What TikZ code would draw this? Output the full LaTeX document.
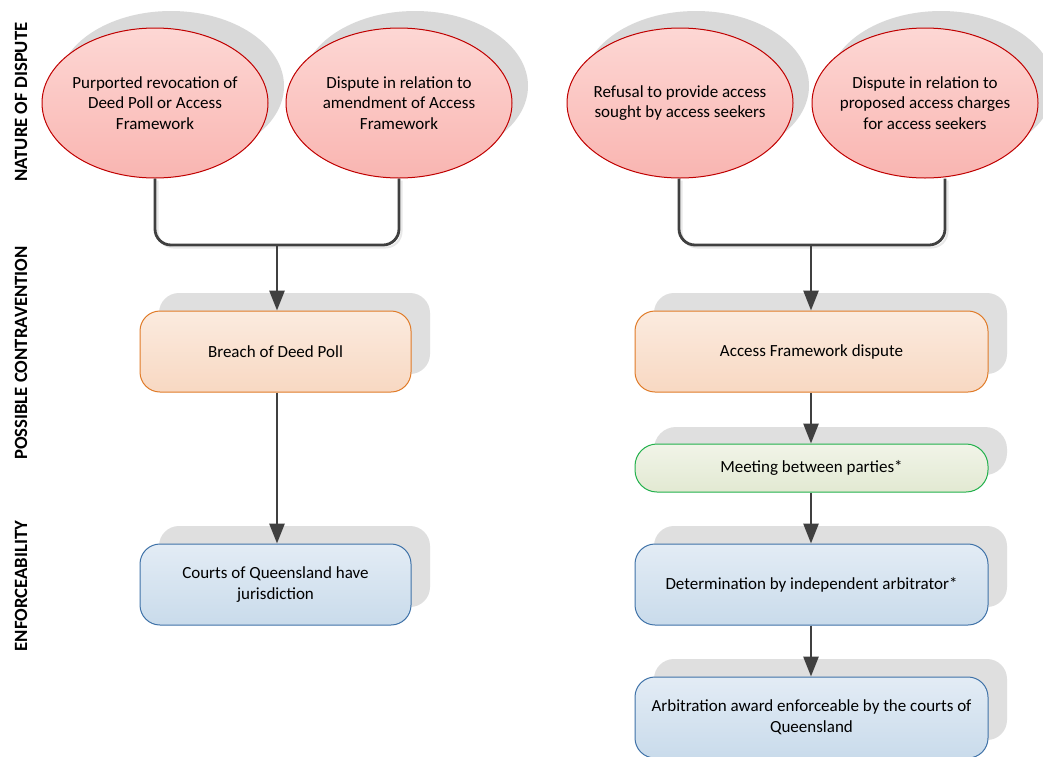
\documentclass[tikz,border=0pt]{standalone}
\usepackage{fontspec}
\setmainfont{Carlito}
\usetikzlibrary{shapes.geometric,arrows.meta,calc}
\definecolor{ellred}{HTML}{C00000}
\definecolor{elltop}{HTML}{FDD7D4}
\definecolor{ellbot}{HTML}{F9B5B1}
\definecolor{shgray}{HTML}{D9D9D9}
\definecolor{bshgray}{HTML}{DFDFDF}
\definecolor{lshgray}{HTML}{E8E8E8}
\definecolor{orborder}{HTML}{E07B28}
\definecolor{ortop}{HTML}{FBEBDF}
\definecolor{orbot}{HTML}{F8D8C2}
\definecolor{grborder}{HTML}{22B14C}
\definecolor{grtop}{HTML}{F1F4E8}
\definecolor{grbot}{HTML}{E2E9D2}
\definecolor{blborder}{HTML}{3F72A8}
\definecolor{bltop}{HTML}{E3ECF5}
\definecolor{blbot}{HTML}{C9DBEB}
\definecolor{linegray}{HTML}{404040}
\tikzset{
  mainf/.style={font=\fontsize{17}{20.7}\selectfont},
  ell/.style={ellipse, draw=ellred, line width=1pt, top color=elltop, bottom color=ellbot,
    minimum width=226pt, minimum height=150pt, inner sep=0pt},
  ellsh/.style={ellipse, fill=shgray, minimum width=226pt, minimum height=150pt, inner sep=0pt},
  txt/.style={mainf, align=center, text=black},
  boxbase/.style={rectangle, rounded corners=20pt, line width=1pt, align=center, mainf, inner sep=0pt},
  orbox/.style={boxbase, draw=orborder, top color=ortop, bottom color=orbot},
  grbox/.style={boxbase, draw=grborder, top color=grtop, bottom color=grbot, rounded corners=22pt},
  blbox/.style={boxbase, draw=blborder, top color=bltop, bottom color=blbot},
  boxsh/.style={rectangle, rounded corners=20pt, fill=bshgray, inner sep=0pt},
  conn/.style={draw=linegray, line width=2.8pt, rounded corners=16pt},
  connsh/.style={draw=lshgray, line width=2pt, rounded corners=16pt},
  arr/.style={draw=linegray, line width=2.8pt, -{Triangle[width=15pt,length=20pt]}},
  sidelabel/.style={rotate=90, font=\fontsize{18.7}{20}\selectfont\bfseries, text=black, inner sep=0pt},
}
\begin{document}
\begin{tikzpicture}[x=1pt,y=-1pt]
\useasboundingbox (0,0) rectangle (1043,756);
\fill[white] (0,0) rectangle (1043,756);

% side labels
\node[sidelabel] (l1) at (21,102) {NATURE OF DISPUTE};
\node[sidelabel] (l2) at (21,353) {POSSIBLE CONTRAVENTION};
\node[sidelabel] (l3) at (21,586) {ENFORCEABILITY};

% ellipse shadows
\node[ellsh] (s1) at (171,86) {};
\node[ellsh] (s2) at (415,86) {};
\node[ellsh] (s3) at (696,86) {};
\node[ellsh] (s4) at (941,86) {};

% ellipses
\node[ell] (e1) at (155,103) {};
\node[ell] (e2) at (399,103) {};
\node[ell] (e3) at (680,103) {};
\node[ell] (e4) at (925,103) {};
\node[txt] (t1) at (e1) {Purported revocation of\\Deed Poll or Access\\Framework};
\node[txt] (t2) at (e2) {Dispute in relation to\\amendment of Access\\Framework};
\node[txt] (t3) at (e3) {Refusal to provide access\\sought by access seekers};
\node[txt] (t4) at (e4) {Dispute in relation to\\proposed access charges\\for access seekers};

% box shadows
\node[boxsh, minimum width=271pt, minimum height=81pt] (bs1) at (294.5,333.5) {};
\node[boxsh, minimum width=271pt, minimum height=81pt] (bs2) at (294.5,566.5) {};
\node[boxsh, minimum width=353pt, minimum height=81pt] (bs3) at (830.5,333.5) {};
\node[boxsh, minimum width=353pt, minimum height=48pt, rounded corners=22pt] (bs4) at (830.5,451) {};
\node[boxsh, minimum width=353pt, minimum height=81pt] (bs5) at (830.5,566.5) {};
\node[boxsh, minimum width=353pt, minimum height=81pt] (bs6) at (830.5,699.5) {};

% connector shadows
\draw[connsh] ($(e1.south)+(2.5,2)$) |- (279,247.5) -| ($(e2.south)+(2.5,2)$);
\draw[connsh] ($(e3.south)+(1.5,2)$) |- (813,247.5) -| ($(e4.south)+(22.5,2)$);

% boxes
\node[orbox, minimum width=271pt, minimum height=81pt] (b1) at (275.5,351.5) {Breach of Deed Poll};
\node[blbox, minimum width=271pt, minimum height=81pt] (b2) at (275.5,584.5) {Courts of Queensland have\\jurisdiction};
\node[orbox, minimum width=353pt, minimum height=81pt] (b3) at (811.5,351.5) {Access Framework dispute};
\node[grbox, minimum width=353pt, minimum height=48pt] (b4) at (811.5,468) {Meeting between parties*};
\node[blbox, minimum width=353pt, minimum height=81pt] (b5) at (811.5,584.5) {Determination by independent arbitrator*};
\node[blbox, minimum width=353pt, minimum height=81pt] (b6) at (811.5,717.5) {Arbitration award enforceable by the courts of\\Queensland};

% connectors
\coordinate (j1) at (277,245);
\coordinate (j2) at (811,245);
\draw[conn] (e1.south) |- (j1) -| (e2.south);
\draw[conn] ($(e3.south)+(-1,0)$) |- (j2) -| ($(e4.south)+(20,0)$);
\draw[arr] (j1) -- (j1 |- b1.north);
\draw[arr] (j2) -- (j2 |- b3.north);
\draw[arr] (b1.south -| j1) -- (j1 |- b2.north);
\draw[arr] (b3.south -| j2) -- (j2 |- b4.north);
\draw[arr] (b4.south -| j2) -- (j2 |- b5.north);
\draw[arr] (b5.south -| j2) -- (j2 |- b6.north);
\end{tikzpicture}
\end{document}
